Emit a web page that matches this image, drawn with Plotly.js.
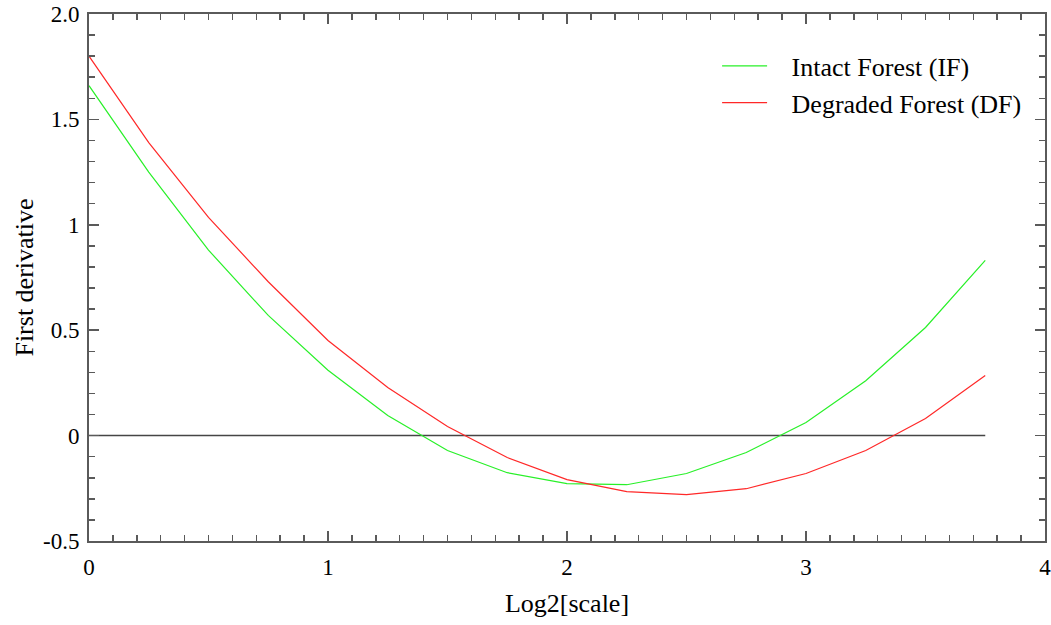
<!DOCTYPE html>
<html>
<head>
<meta charset="utf-8">
<script src="https://cdn.plot.ly/plotly-3.0.1.min.js"></script>
<style>html,body{margin:0;padding:0;background:#fff;}#chart{width:1051px;height:625px;}</style>
</head>
<body>
<div id="chart"></div>
<script>
const scaleX = [0, 0.25, 0.5, 0.75, 1.0, 1.25, 1.5, 1.75, 2.0, 2.25, 2.5, 2.75, 3.0, 3.25, 3.5, 3.75];
const intactForest = [1.66, 1.25, 0.88, 0.57, 0.31, 0.095, -0.071, -0.176, -0.228, -0.233, -0.18, -0.08, 0.062, 0.26, 0.513, 0.831];
const degradedForest = [1.80, 1.39, 1.035, 0.73, 0.451, 0.228, 0.043, -0.104, -0.209, -0.266, -0.28, -0.252, -0.18, -0.071, 0.081, 0.285];
const zeroLineX = [0, 3.75];
const zeroLineY = [0, 0];
const yTickVals = [-0.5, 0, 0.5, 1, 1.5, 2.0];
const yTickText = ["-0.5", "0", "0.5", "1", "1.5", "2.0"];
const xTickVals = [0, 1, 2, 3, 4];
const xTickText = ["0", "1", "2", "3", "4"];
const seriesNames = ["Intact Forest (IF)", "Degraded Forest (DF)"];

const serif = "Liberation Serif, Times New Roman, serif";
const axisColor = "rgb(90,90,90)";
const pad = "\u00a0\u00a0\u00a0";

const traces = [
  {x: zeroLineX, y: zeroLineY, mode: "lines", line: {color: "rgb(70,70,70)", width: 1.5}, showlegend: false, hoverinfo: "skip"},
  {x: scaleX, y: intactForest, mode: "lines", name: pad + seriesNames[0], line: {color: "rgb(40,240,40)", width: 1.2}},
  {x: scaleX, y: degradedForest, mode: "lines", name: pad + seriesNames[1], line: {color: "rgb(255,40,40)", width: 1.2}}
];

const layout = {
  width: 1051, height: 625,
  margin: {l: 89, r: 6, t: 14, b: 84},
  paper_bgcolor: "#fff", plot_bgcolor: "#fff",
  font: {family: serif, color: "#000", size: 23},
  showlegend: true,
  legend: {x: 0.657, y: 0.946, xanchor: "left", yanchor: "top", bgcolor: "rgba(0,0,0,0)", font: {family: serif, size: 26}, tracegroupgap: 0, itemwidth: 45},
  xaxis: {
    range: [0, 4], showgrid: false, zeroline: false,
    showline: true, linecolor: axisColor, linewidth: 2, mirror: "allticks",
    ticks: "inside", ticklen: 10, tickwidth: 1.5, tickcolor: axisColor,
    tickvals: xTickVals, ticktext: xTickText,
    minor: {dtick: 0.1, ticks: "inside", ticklen: 6, tickwidth: 1.5, tickcolor: axisColor, showgrid: false},
    tickfont: {family: serif, size: 23},
    ticklabelstandoff: 4,
    ticklabeloverflow: "allow",
    title: {text: "Log2[scale]", font: {family: serif, size: 26}, standoff: 15}
  },
  yaxis: {
    range: [-0.5, 2.0], showgrid: false, zeroline: false,
    showline: true, linecolor: axisColor, linewidth: 2, mirror: "allticks",
    ticks: "inside", ticklen: 10, tickwidth: 1.5, tickcolor: axisColor,
    tickvals: yTickVals, ticktext: yTickText,
    minor: {dtick: 0.1, ticks: "inside", ticklen: 6, tickwidth: 1.5, tickcolor: axisColor, showgrid: false},
    tickfont: {family: serif, size: 23},
    ticklabelstandoff: 3,
    title: {text: "First derivative", font: {family: serif, size: 26}, standoff: 2}
  }
};

Plotly.newPlot("chart", traces, layout, {displayModeBar: false, staticPlot: true});
</script>
</body>
</html>
